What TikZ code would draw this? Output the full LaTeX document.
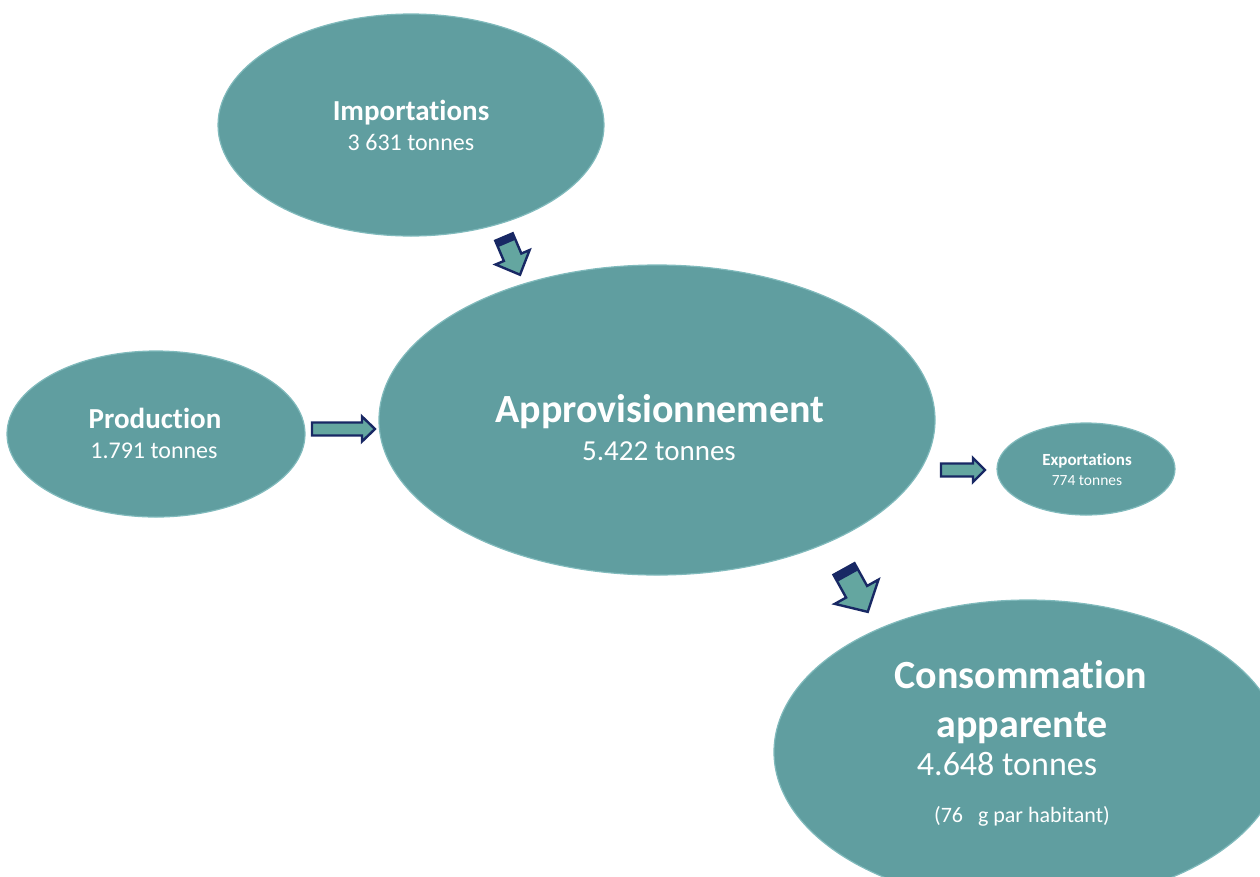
\documentclass[tikz,border=0pt]{standalone}
\usepackage{fontspec}
\setmainfont[Ligatures=NoCommon]{Carlito}
\usetikzlibrary{shapes.geometric}
\definecolor{ellfill}{RGB}{96,158,160}
\definecolor{ellrim}{RGB}{128,186,188}
\definecolor{arrfill}{RGB}{100,166,160}
\definecolor{navy}{RGB}{24,40,100}
\tikzset{
  bubble/.style={ellipse, fill=ellfill, draw=ellrim, line width=1.2pt, inner sep=0pt},
  ttl/.style={anchor=base, text=white, font=\bfseries},
  sub/.style={anchor=base, text=white},
  arrbody/.style={fill=arrfill},
  arrline/.style={draw=navy, line width=2.4pt, line join=miter}
}
\newcommand\blockarr[7]{%
  \begin{scope}[shift={#1},rotate=#2]
    \fill[arrbody] (0,-#4) -- (#3-#6,-#4) -- (#3-#6,-#5) -- (#3,0) -- (#3-#6,#5) -- (#3-#6,#4) -- (0,#4) -- cycle;
    \ifdim #7pt>0pt \fill[navy] (0,-#4) rectangle (#7,#4);\fi
    \draw[arrline] (0,-#4) -- (#3-#6,-#4) -- (#3-#6,-#5) -- (#3,0) -- (#3-#6,#5) -- (#3-#6,#4) -- (0,#4) -- cycle;
  \end{scope}}
\begin{document}
\begin{tikzpicture}[x=1pt,y=-1pt]
\useasboundingbox (0,0) rectangle (1260,876);
\fill[white] (0,0) rectangle (1260,876);
\clip (0,0) rectangle (1260,876);
% bubbles
\node[bubble, minimum width=386pt, minimum height=222pt] (imp) at (411,125) {};
\node[bubble, minimum width=298pt, minimum height=166pt] (prod) at (156,434) {};
\node[bubble, minimum width=556pt, minimum height=310pt] (app) at (657,420) {};
\node[bubble, minimum width=178pt, minimum height=92pt] (exp) at (1086,469) {};
\node[bubble, minimum width=508pt, minimum height=304pt] (cons) at (1028,752) {};
% texts
\node[ttl, font=\fontsize{29}{34}\selectfont\bfseries] (impT) at (411,120) {Importations};
\node[sub, font=\fontsize{24}{29}\selectfont] (impV) at (411,150) {3 631 tonnes};
\node[ttl, font=\fontsize{29}{34}\selectfont\bfseries] (prodT) at (155,428) {Production};
\node[sub, font=\fontsize{24}{29}\selectfont] (prodV) at (154,458) {1.791 tonnes};
\node[ttl, font=\fontsize{40}{46}\selectfont\bfseries] (appT) at (660,422) {Approvisionnement};
\node[sub, font=\fontsize{29}{34}\selectfont] (appV) at (659,460) {5.422 tonnes};
\node[ttl, font=\fontsize{17}{20}\selectfont\bfseries] (expT) at (1087,465) {Exportations};
\node[sub, font=\fontsize{15.5}{18}\selectfont] (expV) at (1087,485) {774 tonnes};
\node[ttl, font=\fontsize{40}{46}\selectfont\bfseries] (consT) at (1021,688) {Consommation};
\node[ttl, font=\fontsize{40}{46}\selectfont\bfseries] (consT2) at (1022,737) {apparente};
\node[sub, font=\fontsize{34}{40}\selectfont] (consV) at (1007,775) {4.648 tonnes};
\node[sub, font=\fontsize{22}{26}\selectfont] (consH) at (1022,822) {(76~~~g par habitant)};
% block arrows
\blockarr{(504,237)}{-67}{41}{9.5}{18.5}{19}{7}
\blockarr{(312,429)}{0}{63}{6.5}{12.5}{13}{0}
\blockarr{(941,470)}{0}{44}{6.5}{12}{12}{0}
\blockarr{(844,569)}{-61}{49}{12}{25}{23}{8}
\end{tikzpicture}
\end{document}
